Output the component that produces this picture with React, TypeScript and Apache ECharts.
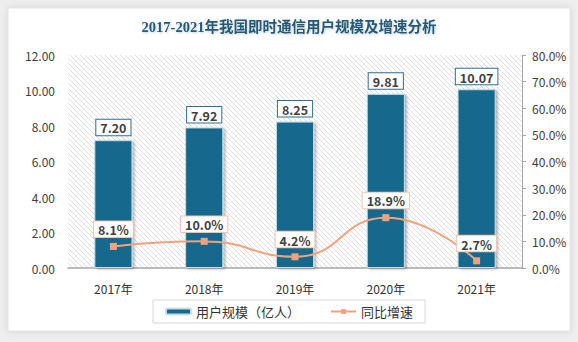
import React, { useEffect, useRef } from "react";
import * as echarts from "echarts";

const categories = ["2017年", "2018年", "2019年", "2020年", "2021年"];
const userScale = [7.2, 7.92, 8.25, 9.81, 10.07];
const growthRate = [8.1, 10.0, 4.2, 18.9, 2.7];
const leftTicks = { min: 0, max: 12, interval: 2 };
const rightTicks = { min: 0, max: 80, interval: 10 };

function makeHatch(): HTMLCanvasElement {
  const c = document.createElement("canvas");
  const s = 5;
  c.width = s;
  c.height = s;
  const ctx = c.getContext("2d")!;
  ctx.fillStyle = "#ffffff";
  ctx.fillRect(0, 0, s, s);
  ctx.strokeStyle = "#dedede";
  ctx.lineWidth = 1;
  ctx.beginPath();
  ctx.moveTo(-1, -1);
  ctx.lineTo(s + 1, s + 1);
  ctx.moveTo(-1, s - 1);
  ctx.lineTo(1, s + 1);
  ctx.moveTo(s - 1, -1);
  ctx.lineTo(s + 1, 1);
  ctx.stroke();
  return c;
}

export default function App() {
  const ref = useRef<HTMLDivElement>(null);
  useEffect(() => {
    document.body.style.margin = "0";
    const chart = echarts.init(ref.current!, undefined, { renderer: "svg" });
    const font = "'Noto Sans CJK SC', 'Noto Sans', sans-serif";
    chart.setOption({
      animation: false,
      backgroundColor: "#eeeeee",
      textStyle: { fontFamily: font },
      graphic: [
        {
          type: "rect",
          z: -10,
          shape: { x: 8, y: 8, width: 562, height: 323 },
          style: {
            fill: "#ffffff",
            stroke: "#e2e2e2",
            lineWidth: 1,
            shadowColor: "rgba(0,0,0,0.12)",
            shadowBlur: 6,
          },
        },
      ],
      title: {
        text: "2017-2021年我国即时通信用户规模及增速分析",
        left: "center",
        top: 15,
        textStyle: {
          fontFamily: "'Liberation Serif', 'Noto Sans CJK SC', serif",
          fontSize: 14.5,
          fontWeight: "bold",
          color: "#235a78",
          textShadowColor: "rgba(0,0,0,0.2)",
          textShadowBlur: 2,
          textShadowOffsetX: 1,
          textShadowOffsetY: 1,
        },
      },
      grid: {
        left: 68,
        right: 56,
        top: 55,
        bottom: 74,
        show: true,
        borderWidth: 0,
        backgroundColor: { image: makeHatch(), repeat: "repeat" },
      },
      legend: {
        left: "center",
        top: 300,
        padding: [5, 12],
        itemGap: 30,
        itemWidth: 25,
        itemHeight: 6,
        borderColor: "#d9d9d9",
        borderWidth: 1,
        backgroundColor: "#ffffff",
        textStyle: { fontSize: 13, color: "#333333" },
        data: ["用户规模（亿人）", "同比增速"],
      },
      xAxis: {
        type: "category",
        data: categories,
        axisLine: { lineStyle: { color: "#a6a6a6", width: 1.5 } },
        axisTick: { show: false },
        axisLabel: { color: "#333333", fontSize: 12, margin: 14 },
      },
      yAxis: [
        {
          type: "value",
          ...leftTicks,
          splitLine: { show: false },
          axisLine: { show: false },
          axisTick: { show: false },
          axisLabel: {
            color: "#404040",
            fontSize: 12,
            margin: 13,
            formatter: (v: number) => v.toFixed(2),
          },
        },
        {
          type: "value",
          position: "right",
          ...rightTicks,
          splitLine: { show: false },
          axisLine: { show: true, lineStyle: { color: "#a6a6a6" } },
          axisTick: { show: true, length: 4, lineStyle: { color: "#a6a6a6" } },
          axisLabel: {
            color: "#404040",
            fontSize: 12,
            margin: 10,
            formatter: (v: number) => v.toFixed(1) + "%",
          },
        },
      ],
      series: [
        {
          name: "用户规模（亿人）",
          type: "bar",
          data: userScale,
          barWidth: "42%",
          itemStyle: {
            color: "#19698d",
            borderColor: "#c4dde8",
            borderWidth: 1,
            shadowColor: "rgba(0,0,0,0.3)",
            shadowBlur: 3,
            shadowOffsetX: 2,
            shadowOffsetY: 1,
          },
          label: {
            show: true,
            position: "top",
            distance: 5,
            formatter: (p: any) => Number(p.value).toFixed(2),
            backgroundColor: "#ffffff",
            borderColor: "#2f6f8c",
            borderWidth: 1,
            padding: [2, 4, 1, 4],
            fontSize: 12.5,
            fontWeight: "bold",
            color: "#404040",
          },
        },
        {
          name: "同比增速",
          type: "line",
          yAxisIndex: 1,
          data: growthRate,
          smooth: true,
          symbol: "rect",
          symbolSize: 7,
          lineStyle: { color: "#f0a27f", width: 2 },
          itemStyle: { color: "#f0a27f" },
          label: {
            show: true,
            position: "top",
            distance: 6,
            formatter: (p: any) => Number(p.value).toFixed(1) + "%",
            backgroundColor: "#ffffff",
            borderColor: "#f4c3ad",
            borderWidth: 1,
            padding: [2, 4, 1, 4],
            fontSize: 12.5,
            fontWeight: "bold",
            color: "#404040",
          },
        },
      ],
    });
    return () => chart.dispose();
  }, []);
  return <div ref={ref} style={{ width: 578, height: 342 }} />;
}
